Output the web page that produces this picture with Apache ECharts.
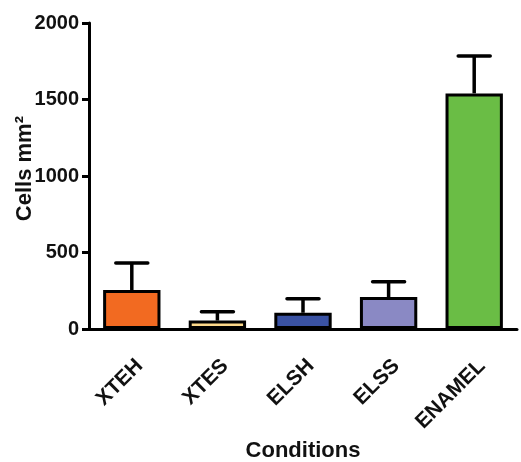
<!DOCTYPE html>
<html>
<head>
<meta charset="utf-8">
<script src="https://cdn.jsdelivr.net/npm/echarts@6/dist/echarts.min.js"></script>
<style>
  html, body { margin: 0; padding: 0; background: #fff; }
  #chart { width: 521px; height: 462px; }
</style>
</head>
<body>
<div id="chart"></div>
<script>
// Cell density per condition (mean ± SD)
const categories = ['XTEH', 'XTES', 'ELSH', 'ELSS', 'ENAMEL'];
const means = [255, 55, 106, 209, 1540];
const errors = [176, 57, 92, 100, 244];
const barColors = ['#f26a21', '#fdd98a', '#3a52a3', '#8a89c4', '#6abd45'];
const yTicks = { min: 0, max: 2000, interval: 500 };

const font = '"Liberation Sans", Arial, Helvetica, sans-serif';
const chart = echarts.init(document.getElementById('chart'));

chart.setOption({
  animation: false,
  grid: { left: 89, right: 4, top: 23, bottom: 133, containLabel: false, outerBoundsMode: 'none' },
  xAxis: {
    type: 'category',
    data: categories,
    name: 'Conditions',
    nameLocation: 'middle',
    nameGap: 111,
    nameTextStyle: { fontFamily: font, fontWeight: 'bold', fontSize: 22, color: '#111' },
    axisLine: { lineStyle: { color: '#000', width: 3 } },
    axisTick: { alignWithLabel: true, length: 7, lineStyle: { color: '#000', width: 3 } },
    axisLabel: {
      rotate: 45, margin: 26, interval: 0, lineHeight: 22,
      // leading blank line nudges each slanted label off the tick, down-right
      formatter: v => '\n' + v,
      fontFamily: font, fontWeight: 'bold', fontSize: 21, color: '#111'
    }
  },
  yAxis: {
    type: 'value',
    min: yTicks.min, max: yTicks.max, interval: yTicks.interval,
    splitLine: { show: false },
    axisLine: { show: true, lineStyle: { color: '#000', width: 3 } },
    axisTick: { show: true, length: 7, lineStyle: { color: '#000', width: 3 } },
    axisLabel: {
      margin: 10, fontFamily: font, fontWeight: 'bold', fontSize: 20, color: '#111',
      formatter: v => String(v)
    }
  },
  graphic: [{
    type: 'text',
    left: 14,
    top: 116,
    rotation: Math.PI / 2,
    style: {
      text: 'Cells mm²',
      fontFamily: font, fontWeight: 'bold', fontSize: 22, fill: '#111'
    }
  }],
  series: [
    {
      type: 'bar',
      barWidth: '67%',
      data: means.map((v, i) => ({
        value: v,
        itemStyle: { color: barColors[i], borderColor: '#000', borderWidth: 3 }
      })),
      z: 2
    },
    {
      // Upper error whiskers with caps
      type: 'custom',
      z: 3,
      data: means.map((v, i) => [i, v, v + errors[i]]),
      renderItem: function (params, api) {
        const base = api.coord([api.value(0), api.value(1)]);
        const top = api.coord([api.value(0), api.value(2)]);
        const half = 16;
        const st = { stroke: '#000', lineWidth: 3.5 };
        return {
          type: 'group',
          children: [
            { type: 'line', shape: { x1: top[0], y1: base[1], x2: top[0], y2: top[1] }, style: st },
            { type: 'line', shape: { x1: top[0] - half, y1: top[1], x2: top[0] + half, y2: top[1] }, style: Object.assign({ lineCap: 'round' }, st) }
          ]
        };
      }
    }
  ]
});
</script>
</body>
</html>
